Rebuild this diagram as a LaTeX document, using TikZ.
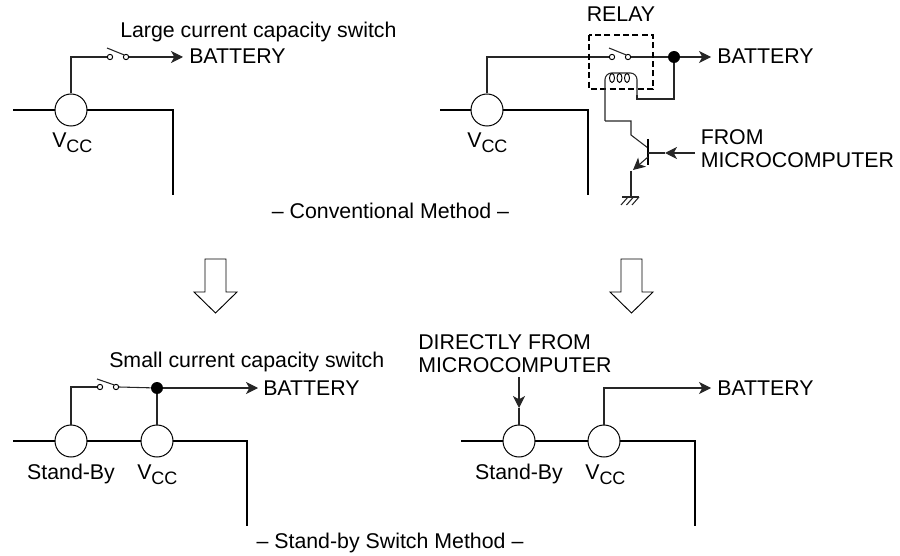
\documentclass[tikz,border=0pt]{standalone}
\usepackage{fontspec}
\setmainfont{Liberation Sans}
\usetikzlibrary{arrows.meta,calc}
\tikzset{
 x=0.75pt,y=-0.75pt,
 wire/.style={line width=0.8pt,draw=black!85},
 thick wire/.style={line width=1.6pt,draw=black},
 pad/.style={circle,draw=black,fill=white,line width=0.75pt,minimum size=24pt,inner sep=0pt},
 dot/.style={circle,fill=black,minimum size=9pt,inner sep=0pt},
 contact/.style={circle,draw=black,fill=white,line width=0.7pt,minimum size=4pt,inner sep=0pt},
 lbl/.style={font=\fontsize{16pt}{17.25pt}\selectfont,inner sep=0pt,align=left,text=black},
 tip/.style={-{Stealth[length=9pt,width=9pt,inset=2.5pt]}},
 bigarrow/.style={draw=black,fill=white,line width=0.7pt},
}
\newcommand{\vcclabel}{V\raisebox{-3.75pt}{\fontsize{13.5pt}{14pt}\selectfont CC}}
\begin{document}
\begin{tikzpicture}
\useasboundingbox (0,0) rectangle (900,556);
% top left
\coordinate (a1) at (13,110); \coordinate (a2) at (173,110); \coordinate (a3) at (173,195);
\draw[thick wire] (a1) -- (a2) -- (a3);
\node[pad] (p1) at (71,110) {};
\node[lbl,anchor=base west] (v1) at (52,148) {\vcclabel};
\node[contact] (s1a) at (110,57) {}; \node[contact] (s1b) at (126,57) {};
\coordinate (b1t) at (183,57);
\node[lbl,anchor=base west] (b1) at (189,64) {BATTERY};
\node[lbl,anchor=base west] (t1) at (120,38) {Large current capacity switch};
\draw[wire] (p1.north) |- (s1a.west);
\draw[wire,tip] (s1b.east) -- (b1t);
\coordinate (h1) at (107,48); \draw[wire] (h1) -- (s1b.north west);
% top right
\coordinate (c1) at (440,110); \coordinate (c2) at (588,110); \coordinate (c3) at (588,195);
\draw[thick wire] (c1) -- (c2) -- (c3);
\node[pad] (p2) at (487,110) {};
\node[lbl,anchor=base west] (v2) at (467,148) {\vcclabel};
\node[contact] (s2a) at (612,57) {}; \node[contact] (s2b) at (628,57) {};
\node[dot] (d2) at (674,57) {};
\coordinate (b2t) at (711,57);
\node[lbl,anchor=base west] (b2) at (717,64) {BATTERY};
\node[lbl,anchor=base] (r2) at (621,22) {RELAY};
\draw[wire] (p2.north) |- (s2a.west);
\draw[wire] (s2b.east) -- (d2);
\draw[wire,tip] (d2) -- (b2t);
\coordinate (h2) at (609,48); \draw[wire] (h2) -- (s2b.north west);
\draw[line width=1pt,dash pattern=on 4.5pt off 2.5pt] (589,35) rectangle (653,89);
% coil
\draw[wire,rounded corners=5pt] (605,121) -- (605,73) -- (637,73) -- (637,99);
\draw[wire] (605,121) -- (631,121) -- (631,135) -- (648,148);
\draw[wire] (637,95) -- (637,99) -- (674,99) -- (d2);
\foreach \i in {0,1,2}{\draw[line width=0.7pt] ({612+\i*7.5},78) ellipse (2.5 and 4.5);}
% transistor
\draw[line width=1.3pt] (648,139) -- (648,165);
\coordinate (em) at (648,157);
\coordinate (emt) at (633,170);
\draw[wire,tip] (em) -- (emt);
\coordinate (g) at (631,197);
\draw[wire] (631,171) -- (g);
\draw[wire] (622,197) -- (639,197);
\foreach \i in {0,1,2}{\draw[wire] ({628+\i*5.5},197) -- ({621+\i*5.5},205);}
\node[lbl,anchor=base west] (f2) at (700.5,168) {FROM\\MICROCOMPUTER};
\coordinate (f2a) at (695,153);
\coordinate (f2b) at (665,153);
\draw[wire,tip] (f2a) -- (f2b);
\draw[wire] (f2b) -- (648,153);
\node[lbl,anchor=base] (m1) at (390.5,219) {– Conventional Method –};
% big arrows
\draw[bigarrow] (205,259) -- (226,259) -- (226,292) -- (237,292) -- (215.5,313) -- (194,292) -- (205,292) -- cycle;
\draw[bigarrow] (621,259) -- (642,259) -- (642,292) -- (653,292) -- (631.5,313) -- (610,292) -- (621,292) -- cycle;
% bottom left
\coordinate (e1) at (13,441);\coordinate (e2) at (247,441);\coordinate (e3) at (247,526);
\draw[thick wire] (e1) -- (e2) -- (e3);
\node[pad] (p3) at (71,441) {};
\node[pad] (p4) at (157,441) {};
\node[lbl,anchor=base] (sb1) at (71,479) {Stand-By};
\node[lbl,anchor=base west] (v3) at (137,479) {\vcclabel};
\node[contact] (s3a) at (100,387) {}; \node[contact] (s3b) at (116,387) {};
\node[dot] (d3) at (157,388) {};
\coordinate (b3t) at (258,388);
\node[lbl,anchor=base west] (b3) at (263,395) {BATTERY};
\node[lbl,anchor=base west] (t3) at (109,367) {Small current capacity switch};
\draw[wire] (p3.north) |- (s3a.west);
\draw[wire] (s3b.east) -- (d3);
\draw[wire] (p4.north) -- (d3);
\draw[wire,tip] (d3) -- (b3t);
\coordinate (h3) at (97,379); \draw[wire] (h3) -- (s3b.north west);
% bottom right
\coordinate (k1) at (461,441);\coordinate (k2) at (695,441);\coordinate (k3) at (695,526);
\draw[thick wire] (k1) -- (k2) -- (k3);
\node[pad] (p5) at (519,441) {};
\node[pad] (p6) at (604,441) {};
\node[lbl,anchor=base] (sb2) at (519,479) {Stand-By};
\node[lbl,anchor=base west] (v4) at (585,479) {\vcclabel};
\coordinate (b4t) at (711,388);
\node[lbl,anchor=base west] (b4) at (717,395) {BATTERY};
\draw[wire,tip] (p6.north) |- (b4t);
\node[lbl,anchor=base west] (dm) at (418,372) {DIRECTLY FROM\\MICROCOMPUTER};
\coordinate (dm2) at (519,377);
\coordinate (dm3) at (519,408);
\draw[wire,tip] (dm2) -- (dm3);
\draw[wire] (dm3) -- (p5.north);
\node[lbl,anchor=base] (m2) at (390,548) {– Stand-by Switch Method –};
\end{tikzpicture}
\end{document}
